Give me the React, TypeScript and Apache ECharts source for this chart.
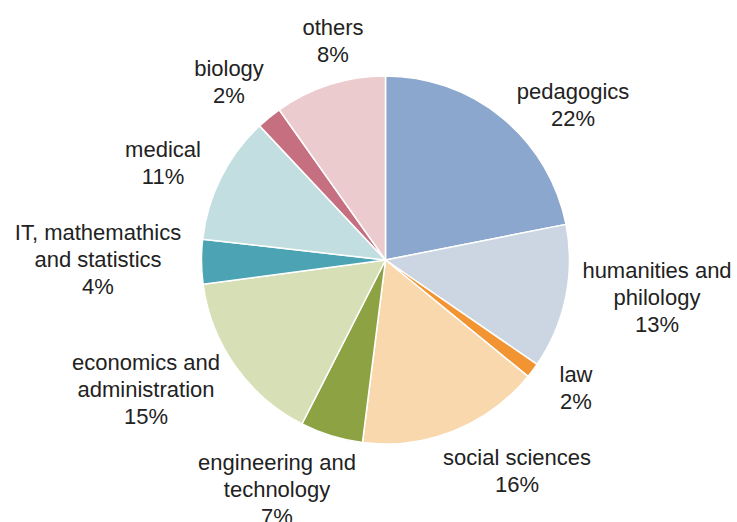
import React, { useEffect, useRef } from "react";
import * as echarts from "echarts";

const categories = [
  "pedagogics",
  "humanities and\nphilology",
  "law",
  "social sciences",
  "engineering and\ntechnology",
  "economics and\nadministration",
  "IT, mathemathics\nand statistics",
  "medical",
  "biology",
  "others",
];
// slice shares (percent)
const sliceValues = [21.9, 12.7, 1.3, 16.1, 5.5, 15.4, 3.9, 11.2, 2.2, 9.8];
// percentages printed in the labels
const labelPercents = [22, 13, 2, 16, 7, 15, 4, 11, 2, 8];

const colors = [
  "#8BA7CE",
  "#CCD6E3",
  "#F29432",
  "#F9D8AE",
  "#8CA243",
  "#D6DFB5",
  "#4BA3B4",
  "#C3DEE0",
  "#C66F80",
  "#ECCBCF",
];
// label block centres (px)
const labelPos: [number, number][] = [
  [573, 105],
  [657, 297],
  [576, 388],
  [517, 471],
  [277, 489],
  [146, 389],
  [98, 259],
  [163, 163],
  [229, 82],
  [333, 41],
];

export default function App() {
  const ref = useRef<HTMLDivElement>(null);
  useEffect(() => {
    if (!ref.current) return;
    const chart = echarts.init(ref.current, null, { renderer: "svg" });
    chart.setOption({
      animation: false,
      backgroundColor: "#ffffff",
      series: [
        {
          type: "pie",
          center: [385.5, 260],
          radius: 184,
          startAngle: 90,
          clockwise: true,
          avoidLabelOverlap: false,
          itemStyle: { borderColor: "#ffffff", borderWidth: 1.5 },
          label: {
            show: true,
            position: "outside",
            fontFamily: "Liberation Sans, Arial, sans-serif",
            fontSize: 22,
            lineHeight: 27,
            color: "#222222",
            align: "center",
            formatter: (p: any) => `${p.name}\n${labelPercents[p.dataIndex]}%`,
          },
          labelLine: { show: false },
          labelLayout: (params: any) => {
            const pos = labelPos[params.dataIndex];
            return { x: pos[0], y: pos[1], align: "center", verticalAlign: "middle" };
          },
          data: categories.map((name, i) => ({
            name,
            value: sliceValues[i],
            itemStyle: { color: colors[i] },
          })),
        },
      ],
    });
    return () => chart.dispose();
  }, []);
  return (
    <div
      ref={ref}
      style={{ position: "fixed", left: 0, top: 0, width: 737, height: 522 }}
    />
  );
}
